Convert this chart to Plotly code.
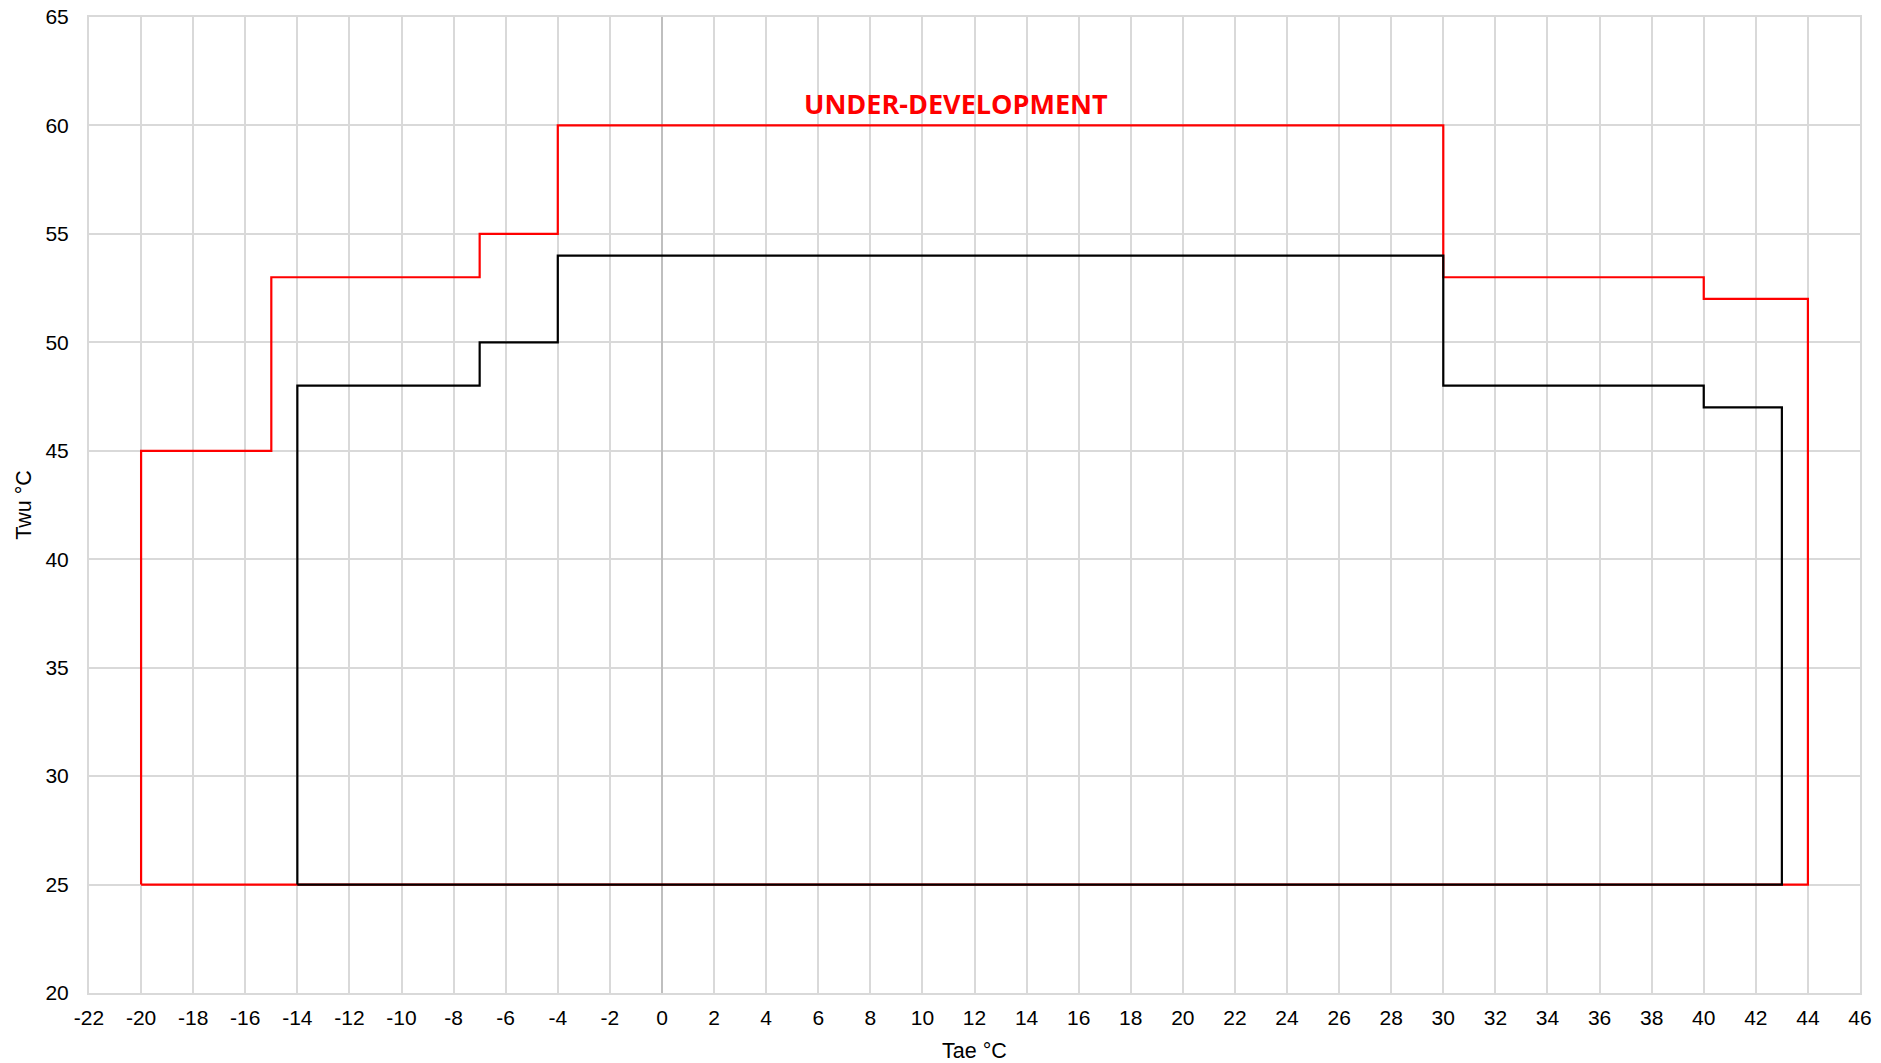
import plotly.graph_objects as go

# Red envelope (under development)
red_x = [-20, -20, -15, -15, -7, -7, -4, -4, 30, 30, 40, 40, 44, 44, -20]
red_y = [25, 45, 45, 53, 53, 55, 55, 60, 60, 53, 53, 52, 52, 25, 25]

# Black envelope
black_x = [-14, -14, -7, -7, -4, -4, 30, 30, 40, 40, 43, 43, -14]
black_y = [25, 48, 48, 50, 50, 54, 54, 48, 48, 47, 47, 25, 25]

x_ticks = list(range(-22, 47, 2))
x_labels = [str(v) for v in x_ticks]
y_ticks = list(range(20, 66, 5))
y_labels = [str(v) for v in y_ticks]

fig = go.Figure()
fig.add_trace(go.Scatter(x=red_x, y=red_y, mode="lines",
                         line=dict(color="#ff0000", width=2.2), showlegend=False))
fig.add_trace(go.Scatter(x=black_x, y=black_y, mode="lines",
                         line=dict(color="#000000", width=2.2), showlegend=False))

fig.add_annotation(x=11.3, y=61, text="<b>UNDER-DEVELOPMENT</b>", showarrow=False,
                   font=dict(color="#ff0000", size=27, family="Open Sans"))

fig.update_layout(
    width=1881, height=1063,
    margin=dict(l=89, r=21, t=17, b=70),
    paper_bgcolor="white", plot_bgcolor="white",
    font=dict(family="Liberation Sans, Arial", size=21, color="black"),
)
fig.update_xaxes(range=[-22, 46], tickvals=x_ticks, ticktext=x_labels, showgrid=True,
                 gridcolor="#d9d9d9", gridwidth=2, zeroline=True, zerolinecolor="#bfbfbf",
                 zerolinewidth=2, showline=True, linecolor="#d9d9d9", linewidth=2, mirror=True,
                 ticks="outside", ticklen=5, tickcolor="rgba(0,0,0,0)", automargin=False,
                 ticklabeloverflow="allow",
                 title=dict(text="Tae °C", font=dict(size=21.5), standoff=16))
fig.update_yaxes(range=[20, 65], tickvals=y_ticks, ticktext=y_labels, showgrid=True,
                 gridcolor="#d9d9d9", gridwidth=2, zeroline=False,
                 showline=True, linecolor="#d9d9d9", linewidth=2, mirror=True,
                 ticks="outside", ticklen=14, tickcolor="rgba(0,0,0,0)", automargin=False,
                 ticklabeloverflow="allow",
                 title=dict(text="Twu °C", font=dict(size=21.5), standoff=8))

fig.write_html("out.html", config={"displayModeBar": False},
               post_script="document.body.style.margin='0px';")
